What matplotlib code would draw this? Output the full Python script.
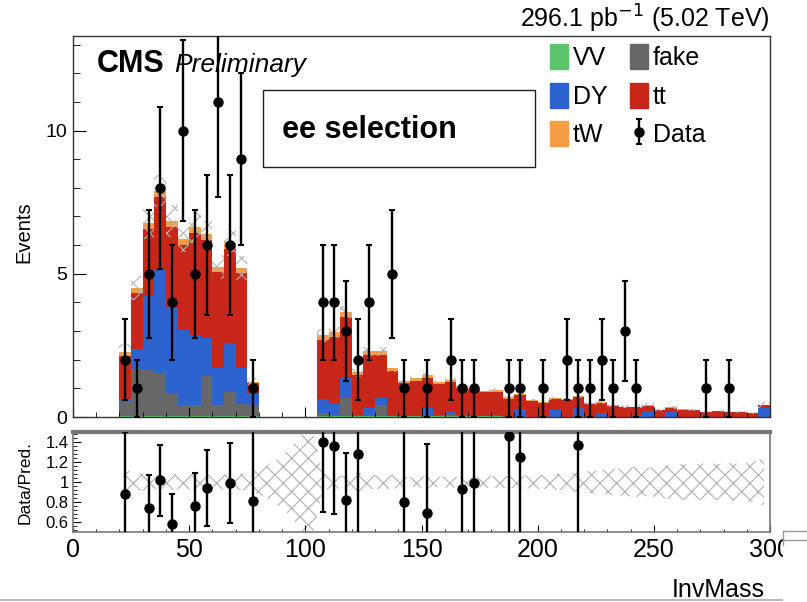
import matplotlib
matplotlib.use("Agg")
import matplotlib.pyplot as plt
import matplotlib.lines as lines
from matplotlib.patches import Patch, Rectangle
from matplotlib.ticker import MultipleLocator
import numpy as np

plt.rcParams['font.family'] = ['Liberation Sans', 'DejaVu Sans']
plt.rcParams['hatch.linewidth'] = 0.8

# 5 GeV bins from 0 to 300
edges = np.arange(0, 305, 5)
centers = edges[:-1] + 2.5

vv = [0, 0, 0, 0, 0.02, 0.03, 0.02, 0.03, 0.04, 0.02,
      0.02, 0.02, 0.02, 0.02, 0.02, 0.02, 0, 0, 0, 0,
      0, 0.03, 0.03, 0.03, 0.02, 0.03, 0.03, 0.02, 0.02, 0.02,
      0.02, 0.02, 0.02, 0.02, 0.02, 0.02, 0.02, 0.015, 0.01, 0.01,
      0.01, 0.01, 0.01, 0.01, 0.01, 0.01, 0.01, 0.01, 0.01, 0.01,
      0.01, 0.01, 0.01, 0.01, 0.01, 0.01, 0.01, 0.01, 0.01, 0.01]
fake = [0, 0, 0, 0, 0.55, 1.64, 1.64, 1.5, 0.8, 0.4,
        0.4, 1.4, 0.4, 0.85, 0.45, 0.4, 0, 0, 0, 0,
        0, 0.1, 0.05, 0.62, 0, 0, 0.4, 0, 0, 0,
        0, 0, 0.1, 0, 0, 0, 0, 0, 0, 0,
        0, 0, 0, 0, 0, 0, 0, 0, 0, 0,
        0, 0, 0, 0, 0, 0, 0, 0, 0, 0]
dy = [0, 0, 0, 0, 0.05, 0.7, 2.55, 3.6, 3.0, 2.6,
      2.45, 1.35, 1.3, 1.7, 1.25, 0.4, 0, 0, 0, 0,
      0, 0.5, 0.42, 0.7, 0.05, 0.3, 0.25, 0, 0, 0,
      0.3, 0.05, 0.08, 0.04, 0, 0, 0.06, 0, 0.27, 0,
      0, 0.24, 0, 0.3, 0, 0.12, 0, 0, 0.06, 0.2,
      0, 0.15, 0, 0, 0, 0, 0, 0, 0, 0.3]
tt = [0, 0, 0, 0, 1.5, 1.95, 2.35, 2.55, 2.8, 3.0,
      3.55, 3.41, 3.35, 3.3, 3.3, 0.35, 0, 0, 0, 0,
      0, 2.07, 2.3, 2.15, 1.4, 1.85, 1.5, 1.58, 1.15, 1.25,
      1.05, 1.08, 1.02, 0.95, 0.92, 0.84, 0.8, 0.62, 0.48, 0.55,
      0.48, 0.37, 0.57, 0.39, 0.44, 0.37, 0.39, 0.33, 0.27, 0.19,
      0.22, 0.17, 0.25, 0.22, 0.15, 0.2, 0.15, 0.17, 0.13, 0.1]
tw = [0, 0, 0, 0, 0.15, 0.18, 0.2, 0.2, 0.2, 0.18,
      0.2, 0.2, 0.17, 0.19, 0.18, 0.06, 0, 0, 0, 0,
      0, 0.15, 0.15, 0.16, 0.09, 0.12, 0.12, 0.1, 0.08, 0.08,
      0.08, 0.08, 0.08, 0.07, 0.07, 0.06, 0.06, 0.05, 0.04, 0.04,
      0.04, 0.03, 0.04, 0.03, 0.03, 0.03, 0.02, 0.02, 0.02, 0.02,
      0.01, 0.01, 0.01, 0.01, 0.01, 0.01, 0.01, 0.01, 0.01, 0.01]
data = [0, 0, 0, 0, 2, 1, 5, 8, 4, 10,
        5, 6, 11, 6, 9, 1, 0, 0, 0, 0,
        0, 4, 4, 3, 2, 4, 0, 5, 1, 0,
        1, 0, 2, 1, 1, 0, 0, 1, 1, 0,
        1, 0, 2, 1, 1, 2, 1, 3, 1, 0,
        0, 0, 0, 0, 1, 0, 1, 0, 0, 0]
# relative MC uncertainty (ratio band)
unc_rel = [0, 0, 0, 0, 0.12, 0.09, 0.08, 0.07, 0.08, 0.07,
           0.08, 0.07, 0.08, 0.07, 0.08, 0.1, 0.15, 0.22, 0.32, 0.45,
           0.6, 0.08, 0.07, 0.06, 0.1, 0.07, 0.07, 0.07, 0.05, 0.05,
           0.06, 0.05, 0.06, 0.05, 0.05, 0.06, 0.06, 0.06, 0.06, 0.07,
           0.07, 0.08, 0.08, 0.1, 0.11, 0.12, 0.13, 0.14, 0.15, 0.14,
           0.16, 0.17, 0.18, 0.17, 0.19, 0.18, 0.19, 0.18, 0.2, 0.24]

names = ['VV', 'fake', 'DY', 'tt', 'tW']
colors = ['#5ec46c', '#676767', '#2c63cf', '#c9261a', '#f59d45']
procs = [vv, fake, dy, tt, tw]

total = np.sum(np.array(procs), axis=0)
data = np.array(data, dtype=float)
unc_rel = np.array(unc_rel)

fig = plt.figure(figsize=(8.07, 6.02), dpi=100)
W, H = 807.0, 602.0
ax1 = fig.add_axes([73 / W, 1 - 417 / H, 697 / W, 381 / H])
ax2 = fig.add_axes([73 / W, 1 - 532 / H, 697 / W, 100 / H])

# stacked MC
ax1.hist([centers] * len(procs), bins=edges, weights=procs, stacked=True,
         histtype='stepfilled', color=colors, linewidth=0)

# MC uncertainty hatch on top of the stack
has = total > 0
unc_abs = unc_rel * total
ax1.bar(centers[has], 2 * unc_abs[has], bottom=(total - unc_abs)[has], width=5,
        fill=False, hatch='xx', edgecolor='#b4b4b4', linewidth=0)

# data
dm = data > 0
eb = ax1.errorbar(centers[dm], data[dm], yerr=np.sqrt(data[dm]), fmt='o',
                  color='black', ms=6.5, lw=1.7, capsize=2.2, capthick=1.5, zorder=5)

ax1.set_xlim(0, 300)
ax1.set_ylim(0, 13.3)
ax1.xaxis.set_major_locator(MultipleLocator(50))
ax1.xaxis.set_minor_locator(MultipleLocator(10))
ax1.yaxis.set_major_locator(MultipleLocator(5))
ax1.yaxis.set_minor_locator(MultipleLocator(1))
ax1.tick_params(which='both', direction='in', top=False, right=False)
ax1.tick_params(axis='x', labelbottom=False)
ax1.tick_params(axis='x', which='major', length=7)
ax1.tick_params(axis='x', which='minor', length=3.5)
ax1.tick_params(axis='y', which='major', length=9, labelsize=14, pad=4)
ax1.tick_params(axis='y', which='minor', length=5)
for s in ax1.spines.values():
    s.set_linewidth(1.0)
    s.set_color('#333333')

# CMS label and lumi
ax1.text(97 / W, 1 - 72 / H, 'CMS', transform=fig.transFigure, fontsize=22,
         fontweight='bold')
ax1.text(174 / W, 1 - 72 / H, 'Preliminary', transform=fig.transFigure,
         fontsize=19, fontstyle='italic')
fig.text(770 / W, 1 - 28 / H, '296.1 pb$^{-1}$ (5.02 TeV)', ha='right',
         va='baseline', fontsize=18)

# selection box
ax1.add_patch(Rectangle((0.2726, 0.656), 0.3904, 0.202, transform=ax1.transAxes,
                        facecolor='white', edgecolor='#222222', lw=1.0, zorder=6))
ax1.text(0.30, 0.753, 'ee selection', transform=ax1.transAxes, fontsize=22,
         fontweight='bold', va='center', zorder=7)

handles = [Patch(color=colors[0]), Patch(color=colors[2]), Patch(color=colors[4]),
           Patch(color=colors[1]), Patch(color=colors[3]), eb]
labels = ['VV', 'DY', 'tW', 'fake', 'tt', 'Data']
ax1.legend(handles, labels, ncol=2, loc='upper left', bbox_to_anchor=(0.685, 0.978),
           frameon=False, fontsize=18, handlelength=0.7, handleheight=1.15,
           handletextpad=0.2, columnspacing=0.9, labelspacing=0.5,
           borderpad=0, borderaxespad=0)

fig.text(24 / W, 1 - 232 / H, 'Events', rotation=90, ha='center', va='center',
         fontsize=14.5)

# ratio panel
x_band = centers[unc_rel > 0]
r_band = unc_rel[unc_rel > 0]
ax2.fill_between(x_band, 1 - r_band, 1 + r_band, facecolor='none', hatch='xx',
                 edgecolor='#b0b0b0', linewidth=0)

ratio = np.zeros_like(data)
rerr = np.zeros_like(data)
ratio[has] = data[has] / total[has]
rerr[has] = np.sqrt(data[has]) / total[has]
show = dm & has & (ratio >= 0.5) & (ratio <= 1.5)
ax2.errorbar(centers[show], ratio[show], yerr=rerr[show], fmt='o', color='black',
             ms=6.5, lw=1.7, capsize=2.2, capthick=1.5, zorder=5)

ax2.set_xlim(0, 300)
ax2.set_ylim(0.5, 1.5)
ax2.xaxis.set_major_locator(MultipleLocator(50))
ax2.xaxis.set_minor_locator(MultipleLocator(10))
ax2.set_yticks([0.6, 0.8, 1.0, 1.2, 1.4])
ax2.set_yticklabels(['0.6', '0.8', '1', '1.2', '1.4'])
ax2.yaxis.set_minor_locator(MultipleLocator(0.04))
ax2.tick_params(which='both', direction='in', top=False, right=False)
ax2.tick_params(axis='x', which='major', length=5, labelsize=18, pad=4)
ax2.tick_params(axis='x', which='minor', length=2.5)
ax2.tick_params(axis='y', which='major', length=6, labelsize=12, pad=3)
ax2.tick_params(axis='y', which='minor', length=3)
for name, s in ax2.spines.items():
    s.set_color('#777777')
    s.set_linewidth(3.0 if name == 'top' else 1.2)

fig.text(25 / W, 1 - 482 / H, 'Data/Pred.', rotation=90, ha='center', va='center',
         fontsize=12.5)
fig.text(765 / W, 1 - 597 / H, 'InvMass', ha='right', va='baseline', fontsize=18)

# screenshot edge bits
fig.add_artist(Rectangle((783 / W, 1 - 570 / H), 24 / W, 38 / H,
                         transform=fig.transFigure, facecolor='white',
                         edgecolor='none', zorder=10))
fig.add_artist(lines.Line2D([783 / W, 1.0], [1 - 531 / H] * 2, color='#999999',
                            lw=1.0, zorder=11))
fig.add_artist(lines.Line2D([783 / W, 1.0], [1 - 540 / H] * 2, color='#999999',
                            lw=1.0, zorder=11))
fig.add_artist(lines.Line2D([783 / W] * 2, [1 - 531 / H, 1 - 545 / H],
                            color='#999999', lw=1.0, zorder=11))
fig.add_artist(lines.Line2D([0, 782 / W], [1 - 600 / H] * 2, color='#bbbbbb',
                            lw=1.5, zorder=11))

fig.savefig('out.png', dpi=100)
